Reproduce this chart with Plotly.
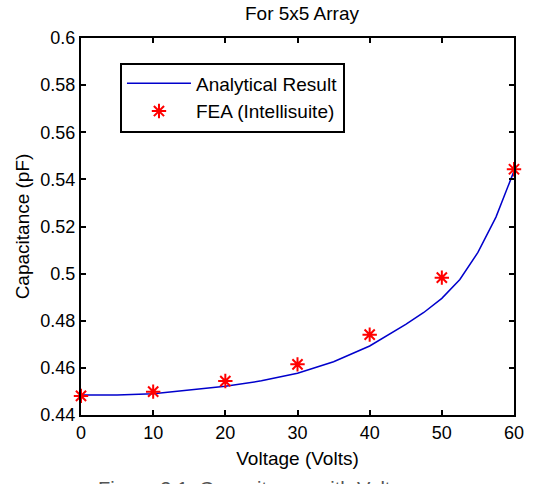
import plotly.graph_objects as go

# Analytical curve
analytical_v = [0, 5, 10, 15, 20, 25, 30, 35, 40, 45, 47.5, 50, 52.5, 55, 57.5, 60]
analytical_c = [0.4485, 0.4485, 0.4490, 0.4505, 0.4522, 0.4545, 0.4577, 0.4626, 0.4693,
                0.4785, 0.4835, 0.4895, 0.4975, 0.5090, 0.5240, 0.5435]

# FEA points
fea_v = [0, 10, 20, 30, 40, 50, 60]
fea_c = [0.4481, 0.4499, 0.4544, 0.4615, 0.4741, 0.4983, 0.5443]

x_ticks = [0, 10, 20, 30, 40, 50, 60]
y_ticks = [0.44, 0.46, 0.48, 0.5, 0.52, 0.54, 0.56, 0.58, 0.6]
y_tick_labels = ["0.44", "0.46", "0.48", "0.5", "0.52", "0.54", "0.56", "0.58", "0.6"]

FONT = "Liberation Sans, Arial, sans-serif"

fig = go.Figure()
fig.add_trace(go.Scatter(
    x=analytical_v, y=analytical_c, mode="lines", name="Analytical Result",
    line=dict(color="#0000cc", width=1.5)))
fig.add_trace(go.Scatter(
    x=fea_v, y=fea_c, mode="markers", name="FEA (Intellisuite)",
    marker=dict(symbol="asterisk-open", size=12, color="red",
                line=dict(color="red", width=2)),
    cliponaxis=False))

axis_common = dict(showline=True, linecolor="black", linewidth=2, mirror="ticks",
                   ticks="inside", ticklen=5, tickwidth=2, tickcolor="black",
                   showgrid=False, zeroline=False,
                   tickfont=dict(family=FONT, size=18, color="black"))

fig.update_xaxes(range=[0, 60], tickvals=x_ticks,
                 title=dict(text="Voltage (Volts)", font=dict(family=FONT, size=19, color="black"),
                            standoff=10),
                 **axis_common)
fig.update_yaxes(range=[0.44, 0.6], tickvals=y_ticks, ticktext=y_tick_labels,
                 title=dict(text="Capacitance (pF)", font=dict(family=FONT, size=19, color="black"),
                            standoff=6),
                 **axis_common)

fig.update_layout(
    width=536, height=484,
    margin=dict(l=81, r=13, t=38, b=69),
    paper_bgcolor="white", plot_bgcolor="white",
    font=dict(family=FONT, size=18, color="black"),
    title=dict(text="For 5x5 Array", x=0.5634, xanchor="center", y=0.972, yanchor="middle",
               font=dict(family=FONT, size=19, color="black")),
    legend=dict(x=0.09, y=0.935, xanchor="left", yanchor="top",
                bordercolor="black", borderwidth=2, bgcolor="white",
                font=dict(family=FONT, size=19, color="black"),
                tracegroupgap=2, itemwidth=64),
    showlegend=True,
)

fig.add_annotation(text="Figure 3.1: Capacitance with Voltage", xref="paper", yref="paper",
                   x=0.416, y=-0.163, xanchor="center", yanchor="top", showarrow=False,
                   font=dict(family=FONT, size=20, color="#555555"))

fig.write_html("out.html")
